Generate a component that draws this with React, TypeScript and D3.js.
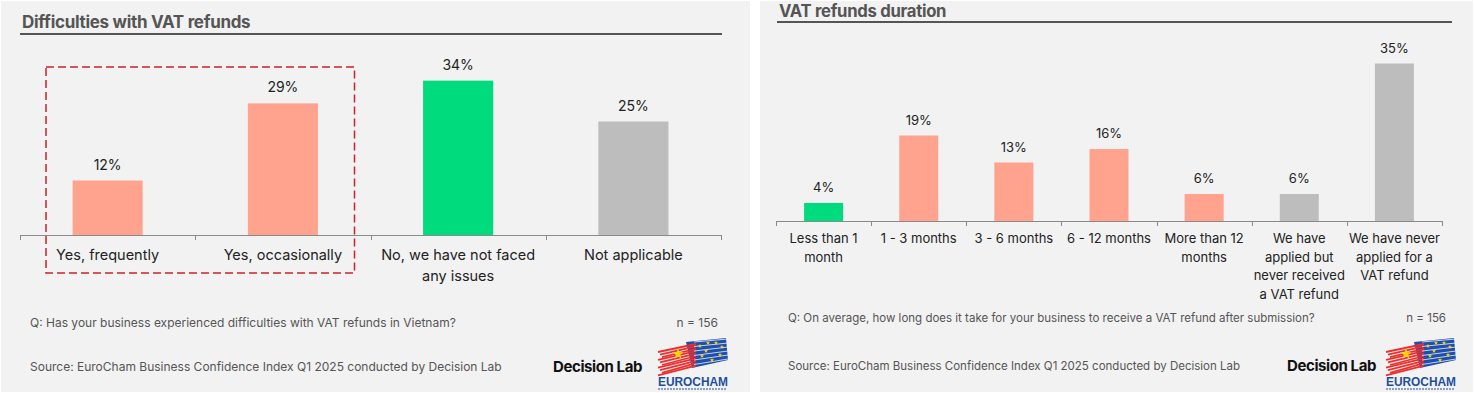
import React, { useEffect, useRef } from "react";
import * as d3 from "d3";

// ---- data ----
const difficultyCategories = [
  "Yes, frequently",
  "Yes, occasionally",
  "No, we have not faced\nany issues",
  "Not applicable",
];
const difficultyValues = [12, 29, 34, 25];
const difficultyGroups = ["problem", "problem", "fine", "none"];

const durationCategories = [
  "Less than 1\nmonth",
  "1 - 3 months",
  "3 - 6 months",
  "6 - 12 months",
  "More than 12\nmonths",
  "We have\napplied but\nnever received\na VAT refund",
  "We have never\napplied for a\nVAT refund",
];
const durationValues = [4, 19, 13, 16, 6, 6, 35];
const durationGroups = ["fine", "problem", "problem", "problem", "problem", "none", "none"];

const sampleSize = 156;
const sourceText = "Source: EuroCham Business Confidence Index Q1 2025 conducted by Decision Lab";

const groupColor: Record<string, string> = {
  problem: "#ffa38e",
  fine: "#00dc7d",
  none: "#bdbdbd",
};

const FONT = "Inter, 'Noto Sans', sans-serif";

interface PanelOpts {
  x0: number;
  x1: number;
  title: string;
  titleY: number;
  titleSize: number;
  ruleY: number;
  ruleX0: number;
  ruleX1: number;
  axisX0: number;
  axisX1: number;
  axisY: number;
  pxPerPct: number;
  barRatio: number;
  categories: string[];
  values: number[];
  groups: string[];
  valueSize: number;
  labelSize: number;
  labelOffset: number;
  lineH: number;
  question: string;
  questionY: number;
  nX: number;
  footX: number;
  footSize: number;
  sourceY: number;
  dlX: number;
  logoX: number;
}

function drawLogo(g: d3.Selection<SVGGElement, unknown, null, undefined>, x: number, y: number) {
  const lg = g.append("g").attr("transform", `translate(${x},${y})`);
  // blue EU half
  lg.append("path")
    .attr("d", "M30,4 L70,0 L72,22 L36,30 Z")
    .attr("fill", "#1d4fb0");
  // red brush strokes
  for (let i = 0; i < 10; i++) {
    lg.append("line")
      .attr("x1", 2 + (i % 3) * 2)
      .attr("y1", 14 + i * 2.6)
      .attr("x2", 40)
      .attr("y2", 6 + i * 2.4)
      .attr("stroke", "#ee2d2d")
      .attr("stroke-width", 1.8);
  }
  for (let i = 0; i < 6; i++) {
    lg.append("line")
      .attr("x1", 38)
      .attr("y1", 4 + i * 4.5)
      .attr("x2", 72)
      .attr("y2", 1 + i * 4)
      .attr("stroke", "#f2f2f2")
      .attr("stroke-width", 0.8);
  }
  const star = d3.symbol().type(d3.symbolStar).size(40);
  lg.append("path").attr("d", star()).attr("transform", "translate(22,16)").attr("fill", "#ffd400");
  const small = d3.symbol().type(d3.symbolStar).size(6);
  [[44, 8], [52, 5], [60, 5], [66, 9], [46, 18], [56, 22], [64, 17], [50, 13]].forEach(([sx, sy]) => {
    lg.append("path").attr("d", small()).attr("transform", `translate(${sx},${sy})`).attr("fill", "#ffd400");
  });
  lg.append("text")
    .attr("x", 2)
    .attr("y", 48)
    .attr("font-family", "'Liberation Sans', Arial, sans-serif")
    .attr("font-weight", 700)
    .attr("font-size", 13)
    .attr("textLength", 70)
    .attr("lengthAdjust", "spacingAndGlyphs")
    .attr("fill", "#1d4f9c")
    .text("EUROCHAM");
  lg.append("line")
    .attr("x1", 2).attr("x2", 70).attr("y1", 51).attr("y2", 51)
    .attr("stroke", "#1d4f9c").attr("stroke-width", 1.2).attr("stroke-dasharray", "2,1");
}

function drawPanel(svg: d3.Selection<SVGSVGElement, unknown, null, undefined>, o: PanelOpts) {
  const g = svg.append("g");

  g.append("rect")
    .attr("x", o.x0)
    .attr("y", 1)
    .attr("width", o.x1 - o.x0)
    .attr("height", 391)
    .attr("fill", "#f2f2f2");

  g.append("text")
    .attr("x", o.ruleX0 + 2)
    .attr("y", o.titleY)
    .attr("font-family", FONT)
    .attr("font-weight", 700)
    .attr("font-size", o.titleSize)
    .attr("letter-spacing", -0.3)
    .attr("fill", "#555")
    .text(o.title);

  g.append("line")
    .attr("x1", o.ruleX0)
    .attr("x2", o.ruleX1)
    .attr("y1", o.ruleY)
    .attr("y2", o.ruleY)
    .attr("stroke", "#555")
    .attr("stroke-width", 2);

  const x = d3
    .scaleBand<string>()
    .domain(o.categories)
    .range([o.axisX0, o.axisX1])
    .paddingInner(0)
    .paddingOuter(0);
  const bw = x.bandwidth();
  const y = d3
    .scaleLinear()
    .domain([0, 40])
    .range([o.axisY, o.axisY - 40 * o.pxPerPct]);

  const data = o.categories.map((c, i) => ({ c, v: o.values[i], grp: o.groups[i] }));

  g.selectAll("rect.bar")
    .data(data)
    .enter()
    .append("rect")
    .attr("class", "bar")
    .attr("x", (d) => (x(d.c) as number) + (bw * (1 - o.barRatio)) / 2)
    .attr("width", bw * o.barRatio)
    .attr("y", (d) => y(d.v))
    .attr("height", (d) => y(0) - y(d.v))
    .attr("fill", (d) => groupColor[d.grp]);

  g.selectAll("text.val")
    .data(data)
    .enter()
    .append("text")
    .attr("class", "val")
    .attr("x", (d) => (x(d.c) as number) + bw / 2)
    .attr("y", (d) => y(d.v) - 11)
    .attr("text-anchor", "middle")
    .attr("font-family", FONT)
    .attr("font-size", o.valueSize)
    .attr("fill", "#222")
    .text((d) => `${d.v}%`);

  // axis
  g.append("line")
    .attr("x1", o.axisX0)
    .attr("x2", o.axisX1)
    .attr("y1", o.axisY + 0.5)
    .attr("y2", o.axisY + 0.5)
    .attr("stroke", "#8a8a8a")
    .attr("stroke-width", 1);
  const ticks = [o.axisX0, ...o.categories.map((c) => (x(c) as number) + bw)];
  g.selectAll("line.tick")
    .data(ticks)
    .enter()
    .append("line")
    .attr("class", "tick")
    .attr("x1", (d) => Math.round(d) + 0.5)
    .attr("x2", (d) => Math.round(d) + 0.5)
    .attr("y1", o.axisY)
    .attr("y2", o.axisY + 5)
    .attr("stroke", "#8a8a8a");

  const lbl = g
    .selectAll("text.cat")
    .data(data)
    .enter()
    .append("text")
    .attr("class", "cat")
    .attr("text-anchor", "middle")
    .attr("font-family", FONT)
    .attr("font-size", o.labelSize)
    .attr("fill", "#222");
  lbl.each(function (d) {
    const t = d3.select(this);
    d.c.split("\n").forEach((line, li) => {
      t.append("tspan")
        .attr("x", (x(d.c) as number) + bw / 2)
        .attr("y", o.axisY + o.labelOffset + li * o.lineH)
        .text(line);
    });
  });

  // footer
  g.append("text")
    .attr("x", o.footX)
    .attr("y", o.questionY)
    .attr("font-family", FONT)
    .attr("font-size", o.footSize)
    .attr("fill", "#555")
    .text(o.question);
  g.append("text")
    .attr("x", o.nX)
    .attr("y", o.questionY)
    .attr("text-anchor", "end")
    .attr("font-family", FONT)
    .attr("font-size", o.footSize)
    .attr("fill", "#555")
    .text(`n = ${sampleSize}`);
  g.append("text")
    .attr("x", o.footX)
    .attr("y", o.sourceY)
    .attr("font-family", FONT)
    .attr("font-size", o.footSize)
    .attr("fill", "#555")
    .text(sourceText);
  g.append("text")
    .attr("x", o.dlX)
    .attr("y", o.sourceY + 1)
    .attr("font-family", FONT)
    .attr("font-weight", 700)
    .attr("font-size", 15)
    .attr("letter-spacing", -0.4)
    .attr("fill", "#111")
    .text("Decision Lab");
  drawLogo(g, o.logoX, 338);

  return { g, x, bw };
}

const App: React.FC = () => {
  const ref = useRef<SVGSVGElement>(null);

  useEffect(() => {
    if (!ref.current) return;
    const svg = d3.select(ref.current);
    svg.selectAll("*").remove();

    const left = drawPanel(svg, {
      x0: 1,
      x1: 750,
      title: "Difficulties with VAT refunds",
      titleY: 28,
      titleSize: 17,
      ruleY: 34,
      ruleX0: 20,
      ruleX1: 722,
      axisX0: 20,
      axisX1: 721,
      axisY: 235,
      pxPerPct: 4.54,
      barRatio: 0.4,
      categories: difficultyCategories,
      values: difficultyValues,
      groups: difficultyGroups,
      valueSize: 14,
      labelSize: 14.5,
      labelOffset: 25,
      lineH: 21,
      question: "Q: Has your business experienced difficulties with VAT refunds in Vietnam?",
      questionY: 327,
      nX: 718,
      footX: 30,
      footSize: 12,
      sourceY: 371,
      dlX: 553,
      logoX: 656,
    });

    // dashed highlight around the "yes" answers
    const first = difficultyCategories[0];
    const second = difficultyCategories[1];
    const bx0 = (left.x(first) as number) + 26;
    const bx1 = (left.x(second) as number) + left.bw - 16;
    left.g
      .append("rect")
      .attr("x", bx0)
      .attr("y", 67)
      .attr("width", bx1 - bx0)
      .attr("height", 206)
      .attr("fill", "none")
      .attr("stroke", "#c8232b")
      .attr("stroke-width", 1.5)
      .attr("stroke-dasharray", "8,4");

    drawPanel(svg, {
      x0: 760,
      x1: 1473,
      title: "VAT refunds duration",
      titleY: 17,
      titleSize: 16.7,
      ruleY: 22,
      ruleX0: 777,
      ruleX1: 1452,
      axisX0: 776,
      axisX1: 1442,
      axisY: 221,
      pxPerPct: 4.5,
      barRatio: 0.41,
      categories: durationCategories,
      values: durationValues,
      groups: durationGroups,
      valueSize: 13,
      labelSize: 13,
      labelOffset: 22,
      lineH: 18.7,
      question:
        "Q: On average, how long does it take for your business to receive a VAT refund after submission?",
      questionY: 322,
      nX: 1446,
      footX: 788,
      footSize: 11.5,
      sourceY: 370,
      dlX: 1287,
      logoX: 1384,
    });
  }, []);

  return (
    <svg
      ref={ref}
      width={1474}
      height={393}
      viewBox="0 0 1474 393"
      style={{ position: "absolute", left: 0, top: 0, background: "#ffffff" }}
    />
  );
};

export default App;
